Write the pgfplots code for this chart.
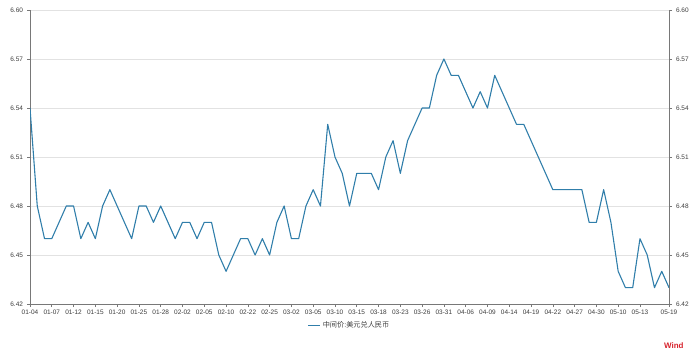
\documentclass[border=0pt]{standalone}
\usepackage{fontspec}
\setmainfont{Liberation Sans}
\newfontfamily\cjk{Noto Sans CJK SC}
\usepackage{pgfplots}
\pgfplotsset{compat=1.18}
\definecolor{linec}{RGB}{48,126,170}
\definecolor{gridc}{RGB}{226,226,226}
\definecolor{axc}{RGB}{120,120,120}
\definecolor{tickc}{RGB}{60,60,60}
\definecolor{windred}{RGB}{215,35,45}
\pgfplotsset{
  common/.style={
    at={(0,0)}, anchor=south west, scale only axis,
    width=639bp, height=294bp,
    xmin=0, xmax=88, ymin=6.42, ymax=6.60,
    ytick={6.42,6.45,6.48,6.51,6.54,6.57,6.60},
    yticklabel style={/pgf/number format/fixed, /pgf/number format/fixed zerofill, /pgf/number format/precision=2},
    /pgf/number format/assume math mode=true,
    tick label style={font=\fontsize{6.5}{7}\selectfont, text=tickc},
    tick align=outside, major tick length=3bp,
    tick style={axc, line width=0.6pt},
    axis line style={draw=axc, line width=0.7pt, -},
  }
}
\begin{document}
\begin{tikzpicture}[x=1bp,y=1bp]
\useasboundingbox (-30,-52) rectangle (670,304);
\begin{axis}[common,
  axis x line*=bottom, axis y line*=left,
  ymajorgrids, grid style={gridc, line width=0.6pt},
  xtick={0,3,...,84,88},
  xticklabels={01-04,01-07,01-12,01-15,01-20,01-25,01-28,02-02,02-05,02-10,02-22,02-25,03-02,03-05,03-10,03-15,03-18,03-23,03-26,03-31,04-06,04-09,04-14,04-19,04-22,04-27,04-30,05-10,05-13,05-19},
  yticklabel style={xshift=-0.5bp},
  xticklabel style={yshift=0.5bp},
  legend style={at={(0.5,-0.045)}, anchor=north, draw=none, fill=none,
    font=\cjk\fontsize{7.2}{8}\selectfont, text=tickc},
  legend image code/.code={\draw[#1] (-2bp,0bp) -- (10bp,0bp);},
]
\addplot[linec, line width=1.1pt, line join=round] table[x=i, y=v] {
i v
0 6.54
1 6.48
2 6.46
3 6.46
4 6.47
5 6.48
6 6.48
7 6.46
8 6.47
9 6.46
10 6.48
11 6.49
12 6.48
13 6.47
14 6.46
15 6.48
16 6.48
17 6.47
18 6.48
19 6.47
20 6.46
21 6.47
22 6.47
23 6.46
24 6.47
25 6.47
26 6.45
27 6.44
28 6.45
29 6.46
30 6.46
31 6.45
32 6.46
33 6.45
34 6.47
35 6.48
36 6.46
37 6.46
38 6.48
39 6.49
40 6.48
41 6.53
42 6.51
43 6.50
44 6.48
45 6.50
46 6.50
47 6.50
48 6.49
49 6.51
50 6.52
51 6.50
52 6.52
53 6.53
54 6.54
55 6.54
56 6.56
57 6.57
58 6.56
59 6.56
60 6.55
61 6.54
62 6.55
63 6.54
64 6.56
65 6.55
66 6.54
67 6.53
68 6.53
69 6.52
70 6.51
71 6.50
72 6.49
73 6.49
74 6.49
75 6.49
76 6.49
77 6.47
78 6.47
79 6.49
80 6.47
81 6.44
82 6.43
83 6.43
84 6.46
85 6.45
86 6.43
87 6.44
88 6.43
};
\addlegendentry{中间价:美元兑人民币}
\end{axis}
\begin{axis}[common,
  axis x line=none, axis y line*=right,
  yticklabel style={xshift=0.5bp},
]
\addplot[draw=none] coordinates {(0,6.5)};
\end{axis}
\node[anchor=east, text=windred, font=\fontsize{8}{9}\selectfont\bfseries] at (657,-42) {Wind};
\end{tikzpicture}
\end{document}
